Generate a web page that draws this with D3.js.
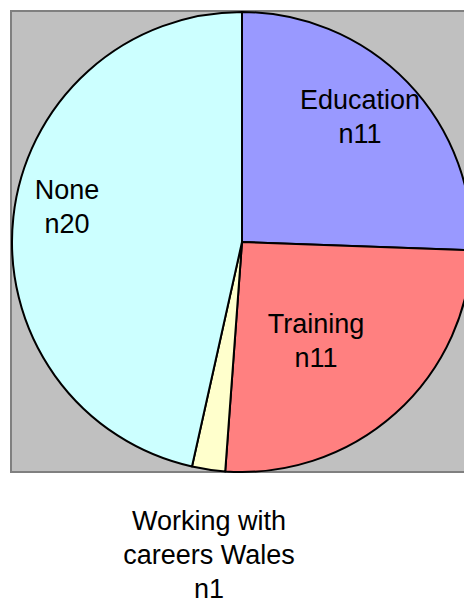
<!DOCTYPE html>
<html>
<head>
<meta charset="utf-8">
<script src="https://cdn.jsdelivr.net/npm/d3@7"></script>
<style>
  html, body { margin: 0; padding: 0; background: #ffffff; }
  svg { display: block; }
  text { font-family: "Liberation Sans", Arial, sans-serif; fill: #000; }
</style>
</head>
<body>
<svg id="chart" width="464" height="601"></svg>
<script>
// Data
const categories = ["Education", "Training", "Working with careers Wales", "None"];
const values = [11, 11, 1, 20];
const labelLines = [
  ["Education", "n11"],
  ["Training", "n11"],
  ["Working with", "careers Wales", "n1"],
  ["None", "n20"]
];
const colors = ["#9999ff", "#ff8080", "#ffffcc", "#ccffff"];

// Layout
const W = 464, H = 601;
const cx = 242, cy = 242, R = 230;
const fontSize = 27, lineH = 34;
// label anchor (x, first baseline) per slice
const labelPos = [[360, 109], [316, 333], [209, 530], [67, 199]];

const svg = d3.select("#chart");

// plot area
svg.append("rect")
  .attr("x", 11).attr("y", 11)
  .attr("width", 470).attr("height", 461)
  .attr("fill", "#c0c0c0")
  .attr("stroke", "#808080")
  .attr("stroke-width", 2);

const pie = d3.pie().sort(null).value(d => d)
  .startAngle(0).endAngle(2 * Math.PI);
const arcs = pie(values);
const arc = d3.arc().innerRadius(0).outerRadius(R);

const g = svg.append("g").attr("transform", `translate(${cx},${cy})`);
g.selectAll("path")
  .data(arcs)
  .join("path")
  .attr("d", arc)
  .attr("fill", (d, i) => colors[i])
  .attr("stroke", "#000")
  .attr("stroke-width", 2)
  .attr("stroke-linejoin", "round");

// labels
const lg = svg.append("g");
labelLines.forEach((lines, i) => {
  const t = lg.append("text")
    .attr("text-anchor", "middle")
    .attr("font-size", fontSize);
  lines.forEach((ln, j) => {
    t.append("tspan")
      .attr("x", labelPos[i][0])
      .attr("y", labelPos[i][1] + j * lineH)
      .text(ln);
  });
});
</script>
</body>
</html>
